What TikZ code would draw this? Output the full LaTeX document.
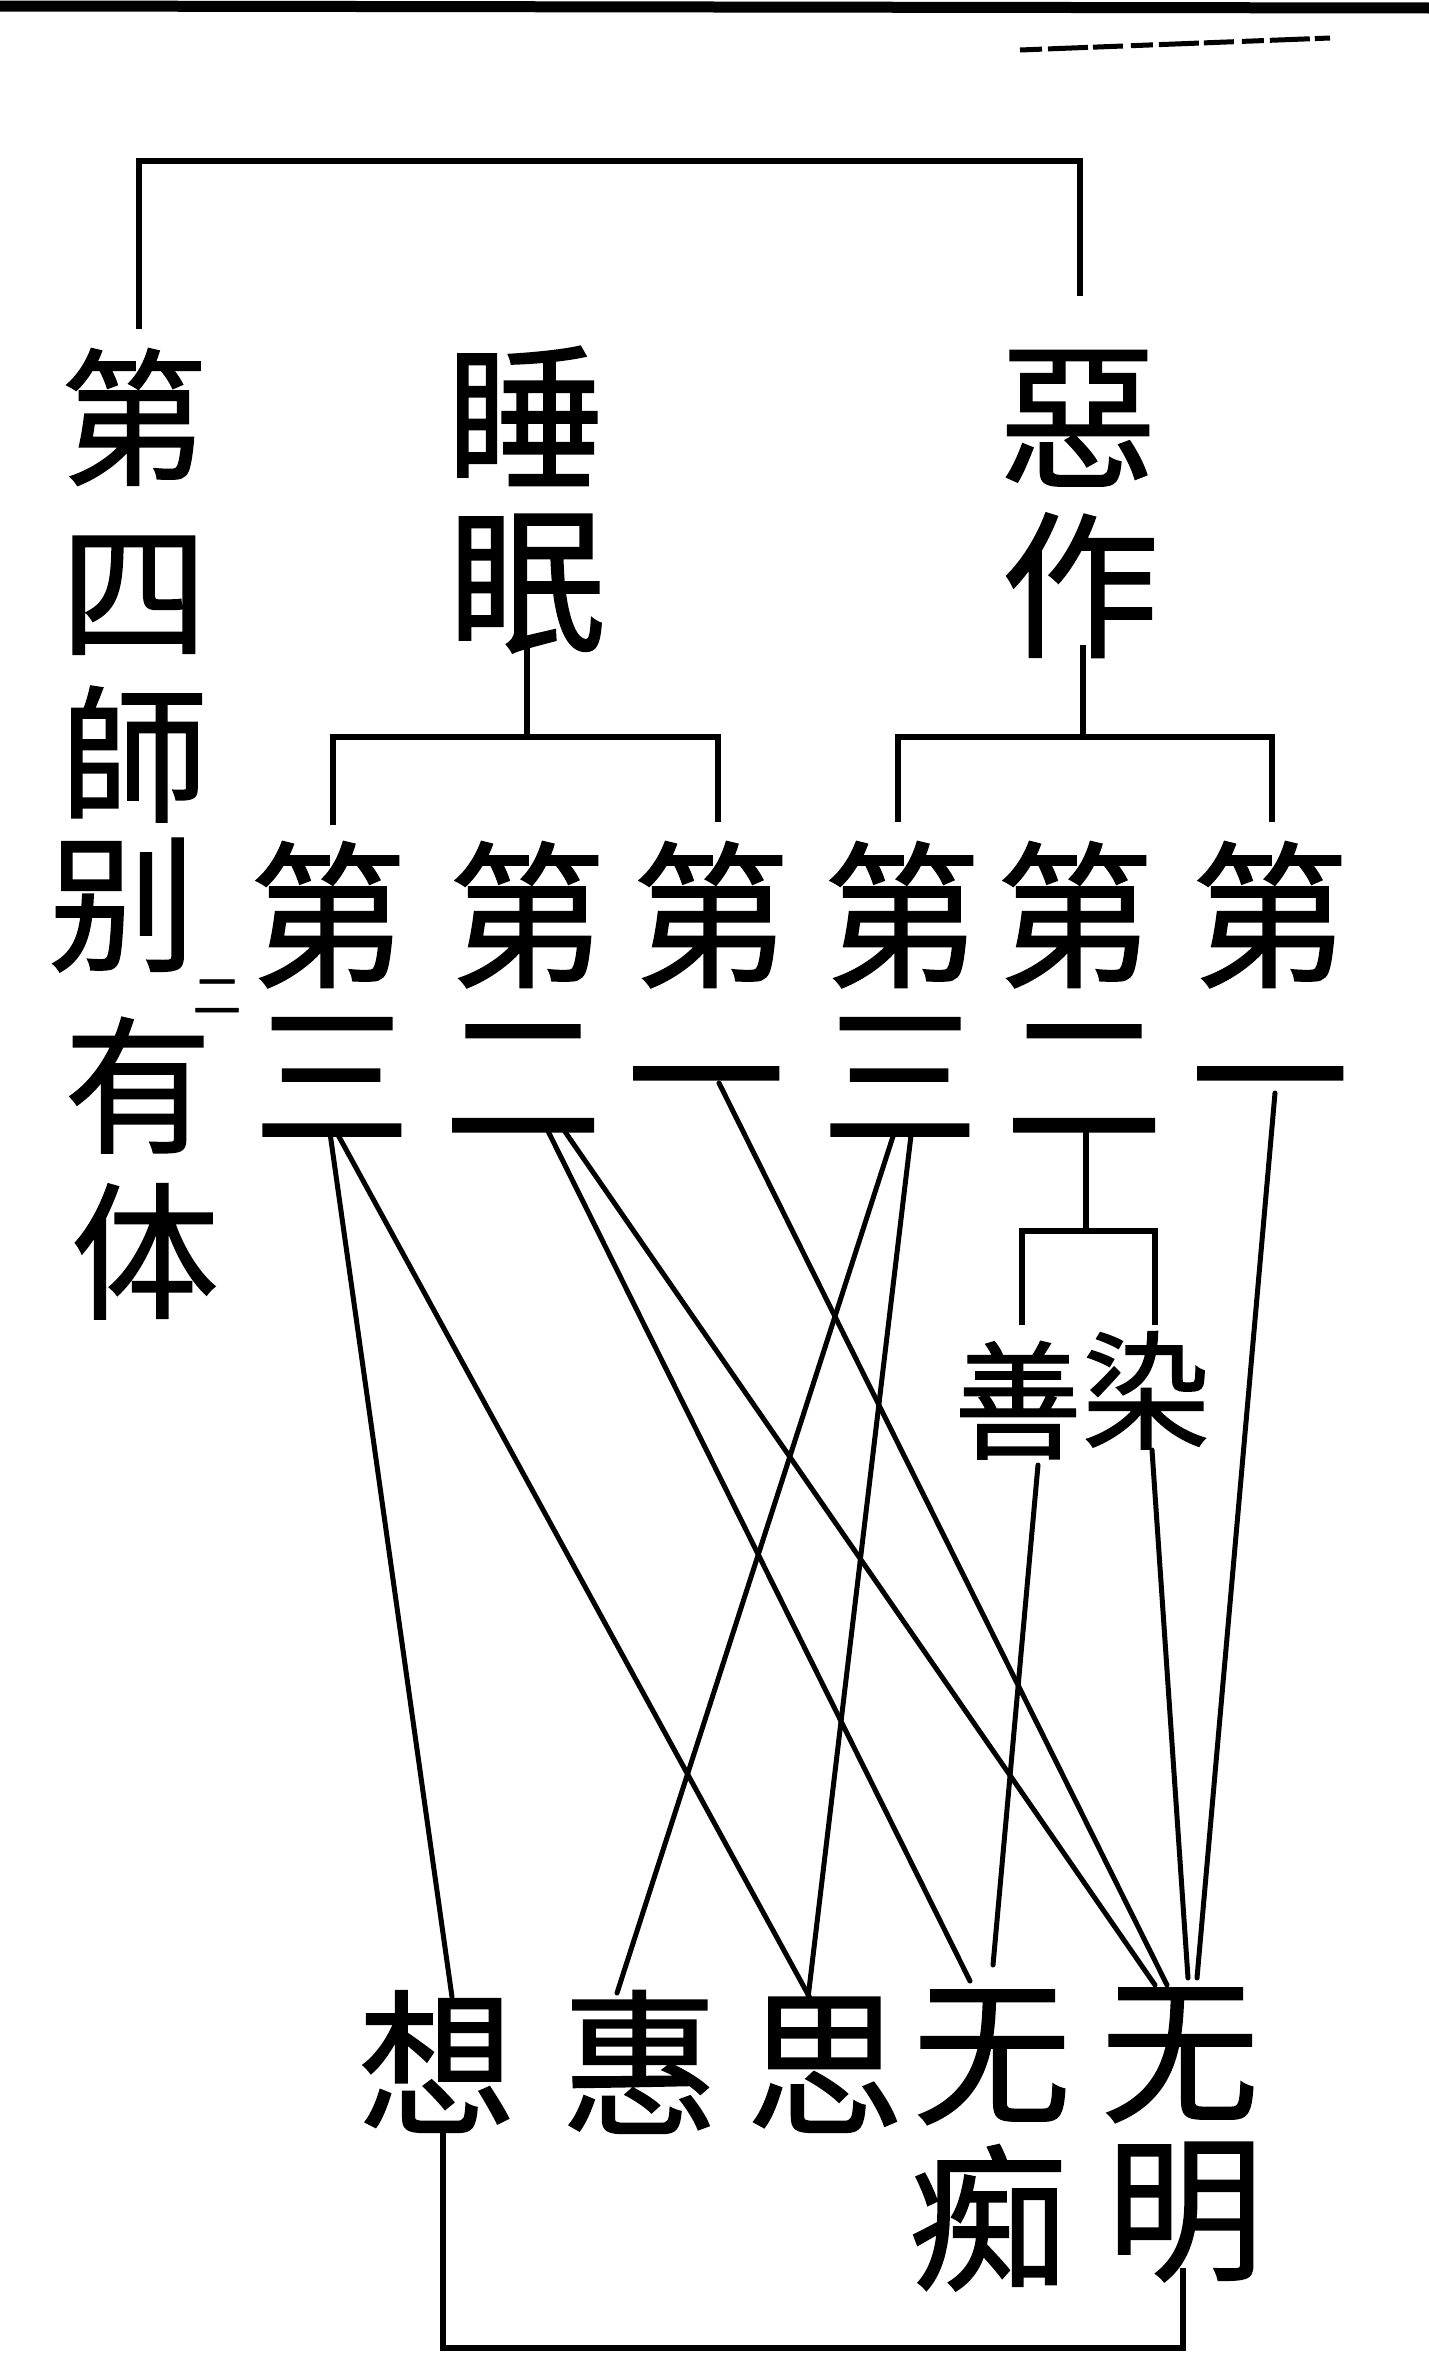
\documentclass[tikz,border=0pt]{standalone}
\usepackage{fontspec}
\usetikzlibrary{calc}
\newfontfamily\cjk[FakeBold=1]{Noto Sans CJK SC}
\tikzset{
  ch/.style={font=\cjk\fontsize{158}{158}\selectfont, inner sep=0pt, text height=139pt, text depth=19pt},
  chl/.style={font=\cjk\fontsize{148}{148}\selectfont, inner sep=0pt, text height=125pt, text depth=10pt},
  chsm/.style={font=\cjk\fontsize{128}{128}\selectfont, inner sep=0pt, text height=113pt, text depth=15pt},
  chtiny/.style={font=\cjk\fontsize{48}{48}\selectfont, inner sep=0pt, text height=34pt, text depth=0pt},
  ln/.style={line width=5pt, line cap=round, line join=miter},
  br/.style={line width=6pt, line cap=butt, line join=miter},
}
\begin{document}
\begin{tikzpicture}[x=1pt,y=-1pt]
\fill[white] (0,0) rectangle (1429,2353);
\useasboundingbox (0,0) rectangle (1429,2353);
% top border and smudge
\draw[line width=11pt] (0,6) -- (1429,8);
\draw[line width=5pt, dash pattern=on 22pt off 6pt on 40pt off 5pt on 30pt off 8pt] (1020,50) -- (1330,38);
% column 1
\node[chl] (a1) at (134,416) {第};
\node[chl] (a2) at (134,590) {四};
\node[chl] (a3) at (134,753) {師};
\node[chl] (a4) at (122,902) {别};
\node[chl] (a5) at (138,1084) {有};
\node[chl] (a6) at (145,1250) {体};
\node[chtiny] (mk) at (217,996) {二};
% column 2 and 3
\node[ch] (b1) at (525,417) {睡};
\node[ch] (b2) at (527,580) {眠};
\node[ch] (c1) at (1078,416) {惡};
\node[ch] (c2) at (1080,585) {作};
% row of 第
\node[ch] (d1) at (328,915) {第};
\node[ch] (d2) at (527,915) {第};
\node[ch] (d3) at (711,915) {第};
\node[ch] (d4) at (902,915) {第};
\node[ch] (d5) at (1075,915) {第};
\node[ch] (d6) at (1270,915) {第};
% numerals
\node[ch] (e1) at (332,1075) {三};
\node[ch] (e2) at (523,1075) {二};
\node[ch] (e3) at (706,1075) {一};
\node[ch] (e4) at (900,1075) {三};
\node[ch] (e5) at (1084,1075) {二};
\node[ch] (e6) at (1270,1075) {一};
% good / defiled
\node[chsm] (f1) at (1018,1400) {善};
\node[chsm] (f2) at (1146,1390) {染};
% bottom row
\node[ch] (g1) at (437,2063) {想};
\node[ch] (g2) at (640,2063) {惠};
\node[ch] (g3) at (825,2063) {思};
\node[ch] (g4) at (992,2052) {无};
\node[ch] (g5) at (1180,2050) {无};
\node[ch] (g6) at (988,2218) {痴};
\node[ch] (g7) at (1185,2208) {明};
% top bracket
\draw[br] ($(a1)+(5,-87)$) -- ($(a1)+(5,-255)$) -| ($(c1)+(2,-120)$);
% sleep bracket
\draw[br] ($(b2)+(0,65)$) -- ($(b2)+(0,157)$);
\draw[br] ($(d1)+(5,-90)$) -- ($(d1)+(5,-178)$) -| ($(d3)+(7,-93)$);
% remorse bracket
\draw[br] ($(c2)+(3,60)$) -- ($(c2)+(3,152)$);
\draw[br] ($(d4)+(-4,-93)$) -- ($(d4)+(-4,-178)$) -| ($(d6)+(2,-93)$);
% second remorse: good / defiled
\draw[br] ($(e5)+(2,52)$) -- ($(e5)+(2,156)$);
\draw[br] ($(f1)+(4,-75)$) -- ($(f1)+(4,-169)$) -| ($(f2)+(9,-65)$);
% diagonal connectors
\draw[ln] ($(e1)+(-2,58)$) -- ($(g1)+(15,-66)$);
\draw[ln] ($(e1)+(5,58)$) -- ($(g3)+(-15,-65)$);
\draw[ln] ($(e2)+(21,48)$) -- ($(g4)+(-22,-71)$);
\draw[ln] ($(e2)+(36,48)$) -- ($(g5)+(-25,-65)$);
\draw[ln] ($(e3)+(13,8)$) -- ($(g5)+(-13,-65)$);
\draw[ln] ($(e4)+(-4,52)$) -- ($(g2)+(-23,-70)$);
\draw[ln] ($(e4)+(12,52)$) -- ($(g3)+(-17,-65)$);
\draw[ln] ($(f1)+(20,65)$) -- ($(g4)+(1,-87)$);
\draw[ln] ($(f2)+(6,60)$) -- ($(g5)+(8,-72)$);
\draw[ln] ($(e6)+(5,18)$) -- ($(g5)+(17,-72)$);
% bottom bracket
\draw[br] ($(g1)+(6,64)$) -- ($(g1)+(6,285)$) -| ($(g7)+(-2,60)$);
\end{tikzpicture}
\end{document}
